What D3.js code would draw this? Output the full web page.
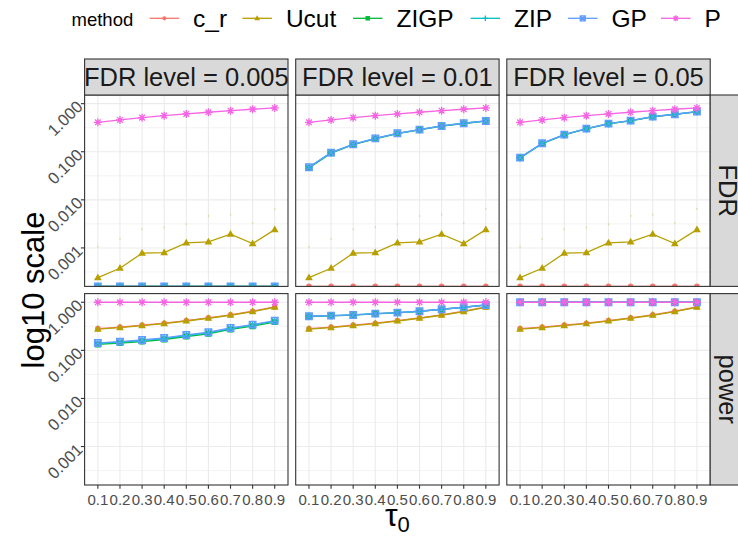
<!DOCTYPE html>
<html><head><meta charset="utf-8">
<script src="https://cdn.jsdelivr.net/npm/d3@7"></script>
<style>body{margin:0;background:#fff}svg{display:block}text{font-family:"Liberation Sans",Arial,sans-serif}</style>
</head><body><svg id="chart" width="738" height="536"></svg>
<script>
// ---------- data ----------
const taus = ["0.1","0.2","0.3","0.4","0.5","0.6","0.7","0.8","0.9"];
const levels = ["FDR level = 0.005","FDR level = 0.01","FDR level = 0.05"];
const metrics = ["FDR","power"];
const methods = ["c_r","Ucut","ZIGP","ZIP","GP","P"];
const colors = ["#F8766D","#B79F00","#00BA38","#00BFC4","#619CFF","#F564E3"];
const yTicks = [0.001,0.01,0.1,1];
const yTickLabels = ["0.001","0.010","0.100","1.000"];

// FDR (0 = no false discoveries, drawn at the panel floor)
const zeros = [0,0,0,0,0,0,0,0,0];
const ucutFdr = [0.000241,0.000378,0.000776,0.000798,0.00127,0.00133,0.00193,0.00123,0.0024];
const ucutFdrUpper = [0.00106,0.00154,0.00245,0.00269,0.00311,0.00462,0.00492,0.00327,0.00647];
const pFdr = [0.41,0.458,0.512,0.563,0.611,0.662,0.714,0.765,0.814];
const gpFdr001 = [0.0476,0.0957,0.143,0.19,0.242,0.288,0.344,0.391,0.437];
const zigpFdr001 = [0.0462,0.0935,0.140,0.186,0.238,0.284,0.340,0.387,0.432];
const gpFdr005 = [0.0754,0.150,0.227,0.302,0.384,0.443,0.537,0.602,0.682];
const zigpFdr005 = [0.0740,0.147,0.224,0.298,0.380,0.439,0.532,0.598,0.677];
// power
const crPow = [0.283,0.304,0.334,0.367,0.417,0.474,0.548,0.650,0.800];
const ucutPow = [0.275,0.296,0.326,0.359,0.408,0.465,0.537,0.638,0.787];
const gpPow0005 = [0.1425,0.152,0.164,0.181,0.209,0.238,0.292,0.342,0.414];
const zipPow0005 = [0.139,0.148,0.159,0.176,0.203,0.231,0.284,0.334,0.404];
const zigpPow0005 = [0.133,0.142,0.152,0.168,0.194,0.221,0.272,0.318,0.388];
const gpPow001 = [0.512,0.526,0.544,0.579,0.608,0.650,0.715,0.787,0.879];
const zigpPow001 = [0.505,0.520,0.538,0.573,0.602,0.644,0.709,0.782,0.874];
const ones = [1,1,1,1,1,1,1,1,1];

// values[metric][level][method]
const values = {
  FDR: [
    {c_r: zeros, Ucut: ucutFdr, ZIGP: zeros, ZIP: zeros, GP: zeros, P: pFdr},
    {c_r: zeros, Ucut: ucutFdr, ZIGP: zigpFdr001, ZIP: gpFdr001, GP: gpFdr001, P: pFdr},
    {c_r: zeros, Ucut: ucutFdr, ZIGP: zigpFdr005, ZIP: gpFdr005, GP: gpFdr005, P: pFdr}
  ],
  power: [
    {c_r: crPow, Ucut: ucutPow, ZIGP: zigpPow0005, ZIP: zipPow0005, GP: gpPow0005, P: ones},
    {c_r: crPow, Ucut: ucutPow, ZIGP: zigpPow001, ZIP: gpPow001, GP: gpPow001, P: ones},
    {c_r: crPow, Ucut: ucutPow, ZIGP: ones, ZIP: ones, GP: ones, P: ones}
  ]
};

// ---------- layout ----------
const svg = d3.select("#chart");
svg.append("rect").attr("width",738).attr("height",536).attr("fill","#fff");
const panelX0 = 84.6, panelW = 203.4, panelGap = 7.7;
const rowY0 = [95, 293.6], panelH = 191.4;
const stripTop = 59, stripRightW = 34;
const color = d3.scaleOrdinal(methods, colors);

const x = d3.scalePoint().domain(taus).range([0, panelW]).padding(0.6);
const y = d3.scaleLog().domain([Math.pow(10,-3.80), Math.pow(10,0.18)]).range([panelH, 0]);
const yv = v => v > 0 ? y(v) : panelH; // zero -> panel floor (-Inf)

function shapePath(shape, s) {
  switch (shape) {
    case "triangle": { const h = s*0.95; return `M0,${-h*0.62}L${s*0.55},${h*0.38}L${-s*0.55},${h*0.38}Z`; }
    case "square": return `M${-s/2},${-s/2}h${s}v${s}h${-s}Z`;
    case "plus": return `M${-s/2},0H${s/2}M0,${-s/2}V${s/2}`;
    case "squarecross": return `M${-s/2},${-s/2}h${s}v${s}h${-s}ZM${-s/2},${-s/2}L${s/2},${s/2}M${s/2},${-s/2}L${-s/2},${s/2}`;
    case "asterisk": { const a = s/2, b = a*0.7071; return `M${-a},0H${a}M0,${-a}V${a}M${-b},${-b}L${b},${b}M${b},${-b}L${-b},${b}`; }
  }
}
const shapes = {c_r:"circle", Ucut:"triangle", ZIGP:"square", ZIP:"plus", GP:"squarecross", P:"asterisk"};
const sizes = {c_r:5.6, Ucut:7, ZIGP:6, ZIP:7.5, GP:6.6, P:8};
function drawPoint(g, m, cx, cy, scale) {
  const sh = shapes[m], s = sizes[m]*scale, c = color(m);
  if (sh === "circle") g.append("circle").attr("cx",cx).attr("cy",cy).attr("r",s/2).attr("fill",c);
  else if (sh === "triangle" || sh === "square")
    g.append("path").attr("d",shapePath(sh,s)).attr("transform",`translate(${cx},${cy})`).attr("fill",c);
  else g.append("path").attr("d",shapePath(sh,s)).attr("transform",`translate(${cx},${cy})`)
      .attr("fill","none").attr("stroke",c).attr("stroke-width",1.3);
}

const tickCol = "#4D4D4D";
metrics.forEach((metric, r) => {
  levels.forEach((lev, c) => {
    const px = panelX0 + c*(panelW+panelGap), py = rowY0[r];
    const g = svg.append("g").attr("transform",`translate(${px},${py})`);
    const cid = `clip${r}${c}`;
    g.append("clipPath").attr("id",cid).append("rect").attr("width",panelW).attr("height",panelH);
    const inner = g.append("g").attr("clip-path",`url(#${cid})`);
    // grid
    [-3.5,-2.5,-1.5,-0.5].forEach(l => inner.append("line").attr("x1",0).attr("x2",panelW)
      .attr("y1",y(Math.pow(10,l))).attr("y2",y(Math.pow(10,l))).attr("stroke","#EBEBEB").attr("stroke-width",0.6));
    yTicks.forEach(t => inner.append("line").attr("x1",0).attr("x2",panelW)
      .attr("y1",y(t)).attr("y2",y(t)).attr("stroke","#EBEBEB").attr("stroke-width",1.1));
    taus.forEach(t => inner.append("line").attr("x1",x(t)).attr("x2",x(t))
      .attr("y1",0).attr("y2",panelH).attr("stroke","#EBEBEB").attr("stroke-width",1.1));
    // faint error bar tips for Ucut FDR
    if (metric === "FDR") ucutFdrUpper.forEach((v,i) => inner.append("rect")
      .attr("x",x(taus[i])-0.6).attr("y",y(v)-1).attr("width",1.2).attr("height",2)
      .attr("fill",color("Ucut")).attr("opacity",0.3));
    // lines
    const line = d3.line().x((d,i)=>x(taus[i])).y(d=>yv(d));
    methods.forEach(m => inner.append("path").datum(values[metric][c][m]).attr("d",line)
      .attr("fill","none").attr("stroke",color(m)).attr("stroke-width",1.3));
    // points
    methods.forEach(m => values[metric][c][m].forEach((v,i) => drawPoint(inner, m, x(taus[i]), yv(v), 1)));
    // border
    g.append("rect").attr("width",panelW).attr("height",panelH).attr("fill","none")
      .attr("stroke","#333333").attr("stroke-width",1.1);
    // y axis on first column
    if (c === 0) {
      yTicks.forEach((t,i) => {
        g.append("line").attr("x1",-3.7).attr("x2",0).attr("y1",y(t)).attr("y2",y(t)).attr("stroke","#333").attr("stroke-width",1.1);
        g.append("text").attr("transform",`translate(-5,${y(t)}) rotate(-45)`).attr("text-anchor","end")
          .attr("dy","0.36em").attr("font-size",16.5).attr("fill",tickCol).text(yTickLabels[i]);
      });
    }
    // x axis on bottom row
    if (r === 1) {
      taus.forEach(t => {
        g.append("line").attr("x1",x(t)).attr("x2",x(t)).attr("y1",panelH).attr("y2",panelH+3.7).attr("stroke","#333").attr("stroke-width",1.1);
        g.append("text").attr("x",x(t)).attr("y",panelH+20.5).attr("text-anchor","middle")
          .attr("font-size",15).attr("fill",tickCol).text(t);
      });
    }
    // top strips
    if (r === 0) {
      const sg = svg.append("g").attr("transform",`translate(${px},${stripTop})`);
      sg.append("rect").attr("width",panelW).attr("height",py-stripTop).attr("fill","#D9D9D9").attr("stroke","#333").attr("stroke-width",1.1);
      sg.append("text").attr("x",panelW/2).attr("y",(py-stripTop)/2).attr("dy","0.36em").attr("text-anchor","middle")
        .attr("font-size",25.5).attr("fill","#1A1A1A").text(lev);
    }
    // right strips
    if (c === levels.length-1) {
      const sx = px + panelW;
      svg.append("rect").attr("x",sx).attr("y",py).attr("width",stripRightW).attr("height",panelH)
        .attr("fill","#D9D9D9").attr("stroke","#333").attr("stroke-width",1.1);
      svg.append("text").attr("transform",`translate(${sx+18},${py+panelH/2}) rotate(90)`).attr("dy","0.36em")
        .attr("text-anchor","middle").attr("font-size",25.5).attr("fill","#1A1A1A").text(metric);
    }
  });
});

// axis titles
svg.append("text").attr("transform",`translate(33,290) rotate(-90)`).attr("dy","0.36em")
  .attr("text-anchor","middle").attr("font-size",31).attr("fill","#000").text("log10 scale");
const xt = svg.append("text").attr("x",panelX0 + (3*panelW+2*panelGap)/2).attr("y",526)
  .attr("text-anchor","middle").attr("font-size",32).attr("fill","#000");
xt.append("tspan").text("τ");
xt.append("tspan").attr("font-size",22).attr("dy",6).text("0");

// legend
const legY = 18.3;
svg.append("text").attr("x",71.5).attr("y",26).attr("font-size",18.5).attr("fill","#000").text("method");
const keyX = [149.6,242.4,353,470.6,568,661];
methods.forEach((m,i) => {
  const kx = keyX[i];
  svg.append("line").attr("x1",kx).attr("x2",kx+29.5).attr("y1",legY).attr("y2",legY)
    .attr("stroke",color(m)).attr("stroke-width",1.3);
  drawPoint(svg, m, kx+14.75, legY, 0.75);
  svg.append("text").attr("x",kx+43.5).attr("y",27.3).attr("font-size",24.5).attr("fill","#000").text(m);
});
</script></body></html>
